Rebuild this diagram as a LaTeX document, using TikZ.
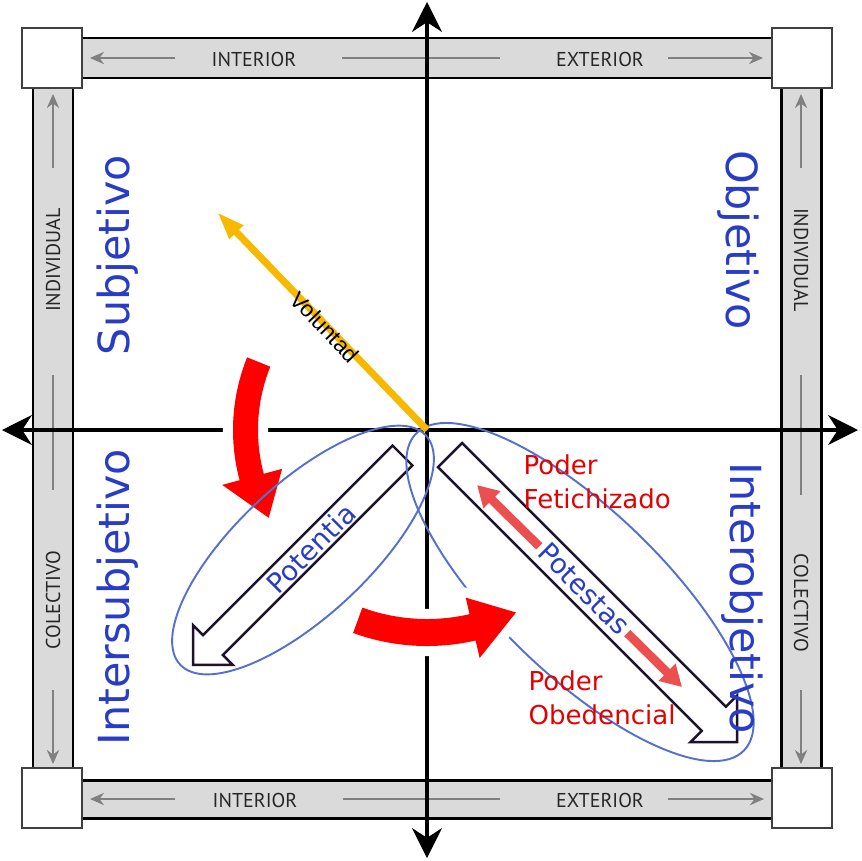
\documentclass[tikz,border=0pt]{standalone}
\usepackage{fontspec}
\setmainfont{DejaVu Sans}
\newfontfamily\barfont{PT Sans}
\newfontfamily\volfont{Liberation Sans}
\usetikzlibrary{arrows.meta}
\definecolor{wordblue}{HTML}{283CC8}
\definecolor{ringblue}{HTML}{5570CD}
\definecolor{poderred}{HTML}{E40000}
\definecolor{gold}{HTML}{F7B800}
\definecolor{salmon}{HTML}{EC4F4F}
\definecolor{barfill}{HTML}{DADADA}
\definecolor{outline}{HTML}{1C1230}

\begin{document}
\begin{tikzpicture}[x=0.01cm,y=0.01cm,
  cornerbox/.style={draw=black!75,fill=white,line width=0.5pt,minimum size=0.6cm,inner sep=0pt},
  barband/.style={fill=barfill,draw=black,line width=0.85pt},
  barlabel/.style={font=\barfont\fontsize{5.7}{6}\selectfont,text=black!85,inner sep=0pt},
  guideline/.style={draw=black!50,line width=0.45pt},
  guidetip/.style={guideline,-{Stealth[length=4pt,width=3.5pt]}},
  mainaxis/.style={line width=0.9pt,{Stealth[length=8.5pt,width=8.5pt]}-{Stealth[length=8.5pt,width=8.5pt]}},
  quadrant/.style={text=wordblue,font=\fontsize{12.2}{14}\selectfont,inner sep=0pt},
  blockword/.style={text=wordblue,font=\fontsize{7.8}{9}\selectfont,inner sep=1pt},
  ring/.style={draw=ringblue,line width=0.55pt},
  turnarrow/.style={fill=red,preaction={draw=white,line width=5.7pt,line join=round}},
  hollow/.style={draw=outline,fill=white,line width=0.7pt,line join=miter},
  poder/.style={text=poderred,font=\fontsize{7.4}{9.7}\selectfont,align=left,inner sep=0pt,anchor=north west}]
  \useasboundingbox (-427,-430) rectangle (435,430);

  % frame of bars
  \draw[barband] (-345,352) rectangle (345,392);
  \draw[barband] (-345,-388) rectangle (345,-350);
  \draw[barband] (-394,342) rectangle (-354,-338);
  \draw[barband] (354,342) rectangle (394,-338);

  \draw[guidetip] (-252,372) -- (-337,372);
  \draw[guideline] (-85,372) -- (73,372);
  \draw[guidetip] (241,372) -- (336,372);
  \draw[guidetip] (-252,-369) -- (-337,-369);
  \draw[guideline] (-84,-369) -- (73,-369);
  \draw[guidetip] (241,-369) -- (337,-369);
  \draw[guidetip] (-374,262) -- (-374,336);
  \draw[guideline] (-374,55) -- (-374,-60);
  \draw[guidetip] (-374,-260) -- (-374,-334);
  \draw[guidetip] (374,262) -- (374,336);
  \draw[guideline] (374,55) -- (374,-65);
  \draw[guidetip] (374,-260) -- (374,-334);

  \node[barlabel] (intTop) at (-173,371) {INTERIOR};
  \node[barlabel] (extTop) at (173,371) {EXTERIOR};
  \node[barlabel] (intBot) at (-172,-370) {INTERIOR};
  \node[barlabel] (extBot) at (173,-370) {EXTERIOR};
  \node[barlabel,rotate=90] (indLeft) at (-374,170) {INDIVIDUAL};
  \node[barlabel,rotate=90] (colLeft) at (-374,-170) {COLECTIVO};
  \node[barlabel,rotate=-90] (indRight) at (374,170) {INDIVIDUAL};
  \node[barlabel,rotate=-90] (colRight) at (374,-173) {COLECTIVO};

  \node[cornerbox] (boxTL) at (-375,372) {};
  \node[cornerbox] (boxTR) at (375,372) {};
  \node[cornerbox] (boxBL) at (-375,-368) {};
  \node[cornerbox] (boxBR) at (375,-368) {};

  % axes
  \coordinate (origin) at (0,0);
  \coordinate (axN) at (0,428);
  \coordinate (axS) at (0,-428);
  \coordinate (axW) at (-425,0);
  \coordinate (axE) at (431,0);
  \draw[mainaxis] (axS) -- (axN);
  \draw[mainaxis] (axW) -- (axE);

  % potentia and potestas
  \begin{scope}[shift={(-24.5,-25.5)},rotate=225]
    \draw[hollow] (0,14) -- (268,14) -- (268,28) -- (296,0) -- (268,-28) -- (268,-14) -- (0,-14) -- cycle;
  \end{scope}
  \begin{scope}[shift={(23,-25)},rotate=-45]
    \draw[hollow] (0,17) -- (373,17) -- (373,33) -- (406,0) -- (373,-33) -- (373,-17) -- (0,-17) -- cycle;
  \end{scope}
  \coordinate (fetTip) at (50,-55);
  \coordinate (obeTip) at (255,-257);
  \draw[salmon,line width=2.5pt,{Triangle[length=6pt,width=6.5pt]}-{Triangle[length=6pt,width=6.5pt]}] (fetTip) -- (obeTip);
  \node[blockword,rotate=45] (potentia) at (-116,-118) {Potentia};
  \node[blockword,rotate=-45,fill=white] (potestas) at (157,-159) {Potestas};

  \draw[ring,rotate around={-44:(153,-162)}] (153,-162) ellipse [x radius=228,y radius=82];

  % turning arrows
  \path[turnarrow] (158:194) arc[start angle=158,end angle=195,radius=194] -- (195:212) -- (209:181)
    -- (195:150) -- (195:169) arc[start angle=195,end angle=158,radius=169] -- cycle;
  \path[turnarrow] (250:216) arc[start angle=250,end angle=283,radius=216] -- (283:234) -- (296:203)
    -- (283:172) -- (283:189) arc[start angle=283,end angle=250,radius=189] -- cycle;

  \draw[ring,rotate around={43:(-124,-120)}] (-124,-120) ellipse [x radius=168,y radius=66];

  % voluntad
  \coordinate (volTip) at (-210,218);
  \draw[gold,line width=2pt,-{Triangle[length=8pt,width=5pt]}] (origin) -- (volTip);
  \node[font=\volfont\fontsize{6.4}{7}\selectfont,rotate=-46,inner sep=0pt] (voluntad) at (-102,103) {Voluntad};

  \node[quadrant,rotate=90] (subj) at (-309,175) {Subjetivo};
  \node[quadrant,rotate=-90] (obj) at (311,190) {Objetivo};
  \node[quadrant,rotate=90] (intersubj) at (-309,-167) {Intersubjetivo};
  \node[quadrant,rotate=-90] (interobj) at (315,-168) {Interobjetivo};

  \node[poder] (fetichizado) at (96,-24) {Poder\\Fetichizado};
  \node[poder] (obedencial) at (101,-240) {Poder\\Obedencial};
\end{tikzpicture}
\end{document}
